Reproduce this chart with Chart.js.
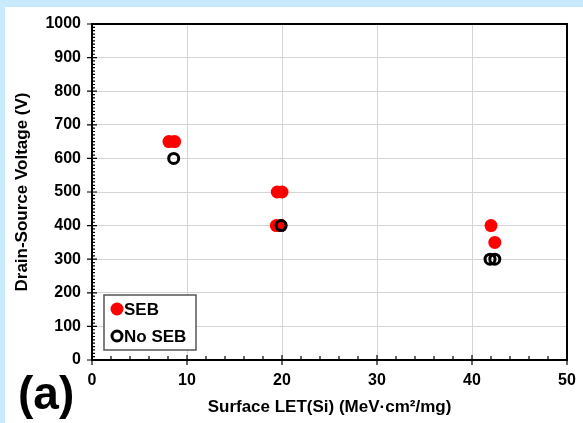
<!DOCTYPE html>
<html>
<head>
<meta charset="utf-8">
<script src="https://cdn.jsdelivr.net/npm/chart.js@4.4.1/dist/chart.umd.min.js"></script>
<style>
    html, body { margin: 0; padding: 0; background: #c9eafc; }
    #panel { position: absolute; left: 5px; top: 7px; width: 578px; height: 416px; background: #fff; }
    #chartBox { position: absolute; left: 0; top: 0; width: 578px; height: 416px; }
    #tag { position: absolute; left: 13px; top: 359px; font: bold 46px "Liberation Sans", Arial, sans-serif; color: #000; }
</style>
</head>
<body>
<div id="panel">
    <div id="chartBox"><canvas id="letChart" width="578" height="416"></canvas></div>
    <div id="tag">(a)</div>
</div>
<script>
// Werte
const sebLet = [8.1, 8.7, 19.5, 20.0, 19.4, 19.9, 42.0, 42.4];
const sebVoltage = [650, 650, 500, 500, 400, 400, 400, 350];
const noSebLet = [8.6, 19.9, 41.9, 42.4];
const noSebVoltage = [600, 400, 300, 300];

const xTicks = [0, 10, 20, 30, 40, 50];
const yTicks = [0, 100, 200, 300, 400, 500, 600, 700, 800, 900, 1000];

const FONT = '"Liberation Sans", Arial, sans-serif';

function toPoints(xs, ys) {
    return xs.map((x, i) => ({ x: x, y: ys[i] }));
}

// Rahmen, Haupt- und Nebenstriche
const axisPlugin = {
    id: 'axisTicks',
    afterDatasetsDraw(chart) {
        const { ctx, chartArea: a, scales } = chart;
        ctx.save();
        ctx.strokeStyle = '#000';
        ctx.lineWidth = 1.2;
        ctx.beginPath();
        for (let v = 0; v <= 50; v += 2) {
            const px = scales.x.getPixelForValue(v);
            const major = v % 10 === 0;
            ctx.moveTo(px, a.bottom + (major ? 5 : 0));
            ctx.lineTo(px, a.bottom - (major ? 5 : 4));
        }
        for (let v = 0; v <= 1000; v += 10) {
            const py = scales.y.getPixelForValue(v);
            const major = v % 100 === 0;
            ctx.moveTo(a.left - (major ? 5 : 0), py);
            ctx.lineTo(a.left + (major ? 5 : 3), py);
        }
        ctx.stroke();
        ctx.lineWidth = 2;
        ctx.strokeRect(a.left, a.top, a.right - a.left, a.bottom - a.top);
        ctx.restore();
    }
};

// Legende unten links im Diagramm
const legendPlugin = {
    id: 'innerLegend',
    afterDraw(chart) {
        const { ctx, chartArea: a } = chart;
        const w = 92, h = 55;
        const x = a.left + 12, y = a.bottom - 10 - h;
        ctx.save();
        ctx.fillStyle = '#fff';
        ctx.fillRect(x, y, w, h);
        ctx.strokeStyle = '#555';
        ctx.lineWidth = 1.5;
        ctx.strokeRect(x, y, w, h);
        ctx.font = 'bold 17px ' + FONT;
        ctx.textBaseline = 'middle';
        chart.data.datasets.slice().sort((p, q) => p.legendIndex - q.legendIndex).forEach((ds, i) => {
            const cy = y + 14 + i * 27;
            const cx = x + 13;
            ctx.beginPath();
            ctx.arc(cx, cy, ds.pointRadius, 0, Math.PI * 2);
            if (ds.backgroundColor !== 'transparent') {
                ctx.fillStyle = ds.backgroundColor;
                ctx.fill();
            }
            ctx.lineWidth = ds.pointBorderWidth;
            ctx.strokeStyle = ds.borderColor;
            if (ds.pointBorderWidth > 0) ctx.stroke();
            ctx.fillStyle = '#000';
            ctx.fillText(ds.label, cx + 7, cy + 1);
        });
        ctx.restore();
    }
};

new Chart(document.getElementById('letChart'), {
    type: 'scatter',
    data: {
        datasets: [
            {
                label: 'No SEB',
                legendIndex: 1,
                order: 0,
                data: toPoints(noSebLet, noSebVoltage),
                backgroundColor: 'transparent',
                borderColor: '#000',
                pointRadius: 5,
                pointBorderWidth: 3,
                pointHoverRadius: 5
            },
            {
                label: 'SEB',
                legendIndex: 0,
                order: 1,
                data: toPoints(sebLet, sebVoltage),
                backgroundColor: '#ff0000',
                borderColor: '#ff0000',
                pointRadius: 6.5,
                pointBorderWidth: 0,
                pointHoverRadius: 6.5
            }
        ]
    },
    options: {
        responsive: false,
        animation: false,
        layout: { padding: { top: 17, right: 16, left: 0, bottom: 0 } },
        plugins: {
            legend: { display: false },
            tooltip: { enabled: false }
        },
        scales: {
            x: {
                type: 'linear',
                min: 0,
                max: 50,
                afterBuildTicks: (scale) => { scale.ticks = xTicks.map(v => ({ value: v })); },
                afterFit: (scale) => { scale.height = 63; scale.paddingLeft = 0; scale.paddingRight = 0; },
                border: { display: false },
                grid: { color: '#d4d4d4', lineWidth: 1, drawTicks: false },
                ticks: { color: '#000', font: { family: FONT, size: 16, weight: 'bold' }, padding: 11, callback: v => String(v) },
                title: {
                    display: true,
                    text: 'Surface LET(Si) (MeV·cm²/mg)',
                    color: '#000',
                    font: { family: FONT, size: 17, weight: 'bold' },
                    padding: { top: 0, bottom: 5 }
                }
            },
            y: {
                type: 'linear',
                min: 0,
                max: 1000,
                afterBuildTicks: (scale) => { scale.ticks = yTicks.map(v => ({ value: v })); },
                afterFit: (scale) => { scale.width = 87; scale.paddingTop = 0; scale.paddingBottom = 0; },
                border: { display: false },
                grid: { color: '#d4d4d4', lineWidth: 1, drawTicks: false },
                ticks: { color: '#000', font: { family: FONT, size: 16, weight: 'bold' }, padding: 11, callback: v => String(v) },
                title: {
                    display: true,
                    text: 'Drain-Source Voltage (V)',
                    color: '#000',
                    font: { family: FONT, size: 17, weight: 'bold' },
                    padding: { top: 7, bottom: 0 }
                }
            }
        }
    },
    plugins: [axisPlugin, legendPlugin]
});
</script>
</body>
</html>
